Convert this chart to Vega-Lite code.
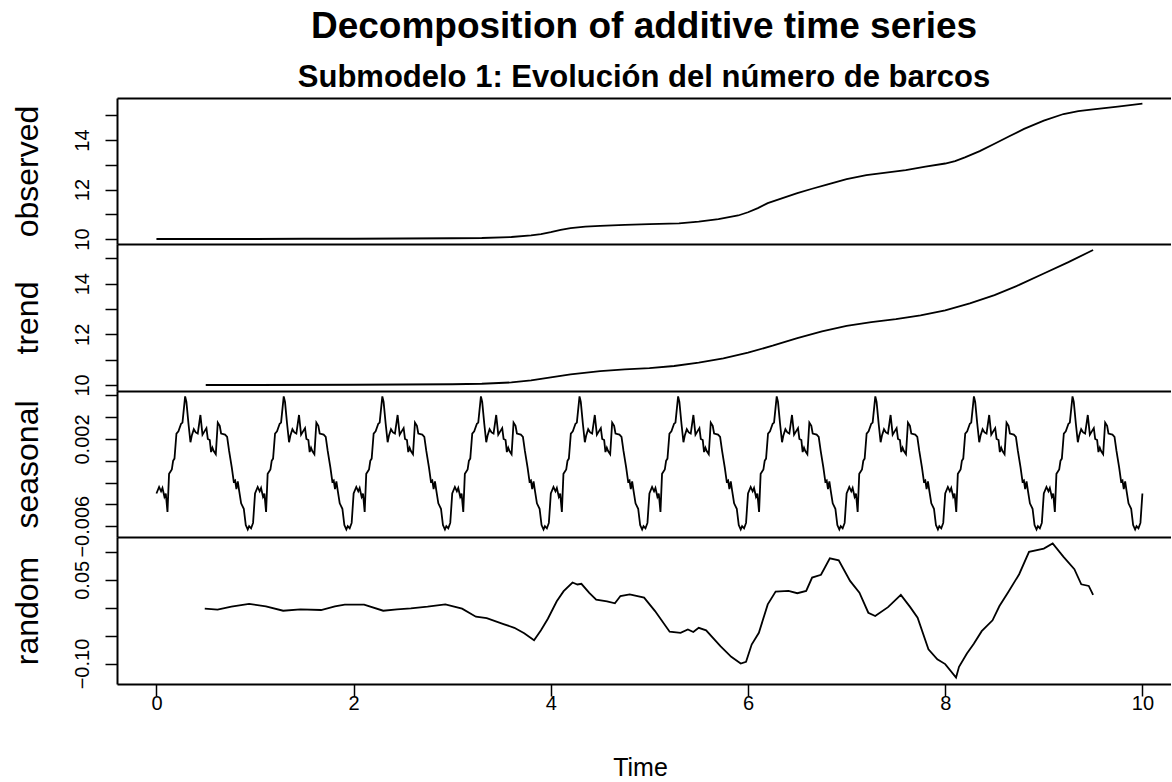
{
"$schema":"https://vega.github.io/schema/vega-lite/v6.json",
"background":"white",
"autosize":{"type":"pad"},
"padding":{"left":11,"top":8,"right":0,"bottom":0},
"bounds":"flush",
"spacing":0,
"config":{
 "view":{"stroke":null},
 "font":"Liberation Sans",
 "concat":{"spacing":0},
 "axis":{"grid":false,"domainColor":"black","domainWidth":2,"tickColor":"black","tickWidth":1.5,"tickSize":12,"labelColor":"black","labelFont":"Liberation Sans","labelFontSize":20,"titleFont":"Liberation Sans","titleFontWeight":"normal","titleColor":"black"}
},
"datasets":{
"observed":[{"t":0,"v":10.0},{"t":0.5,"v":10.0},{"t":1,"v":10.0},{"t":1.5,"v":10.01},{"t":2,"v":10.01},{"t":2.5,"v":10.02},{"t":3,"v":10.03},{"t":3.3,"v":10.04},{"t":3.6,"v":10.08},{"t":3.8,"v":10.15},{"t":3.9,"v":10.2},{"t":4.0,"v":10.28},{"t":4.1,"v":10.37},{"t":4.2,"v":10.44},{"t":4.35,"v":10.5},{"t":4.5,"v":10.53},{"t":4.75,"v":10.57},{"t":5.0,"v":10.6},{"t":5.3,"v":10.63},{"t":5.5,"v":10.7},{"t":5.7,"v":10.8},{"t":5.9,"v":10.95},{"t":6.0,"v":11.08},{"t":6.1,"v":11.25},{"t":6.2,"v":11.45},{"t":6.35,"v":11.65},{"t":6.5,"v":11.85},{"t":6.65,"v":12.03},{"t":6.8,"v":12.2},{"t":7.0,"v":12.42},{"t":7.2,"v":12.58},{"t":7.4,"v":12.68},{"t":7.6,"v":12.78},{"t":7.8,"v":12.92},{"t":8.0,"v":13.05},{"t":8.1,"v":13.15},{"t":8.2,"v":13.3},{"t":8.35,"v":13.55},{"t":8.5,"v":13.85},{"t":8.65,"v":14.15},{"t":8.8,"v":14.45},{"t":9.0,"v":14.78},{"t":9.2,"v":15.05},{"t":9.35,"v":15.17},{"t":9.5,"v":15.24},{"t":9.75,"v":15.35},{"t":10,"v":15.47}],
"trend":[{"t":0.5,"v":10.0},{"t":1,"v":10.0},{"t":2,"v":10.01},{"t":3,"v":10.03},{"t":3.3,"v":10.05},{"t":3.6,"v":10.1},{"t":3.8,"v":10.18},{"t":4.0,"v":10.3},{"t":4.2,"v":10.42},{"t":4.5,"v":10.55},{"t":4.75,"v":10.62},{"t":5.0,"v":10.67},{"t":5.25,"v":10.75},{"t":5.5,"v":10.88},{"t":5.75,"v":11.05},{"t":6.0,"v":11.28},{"t":6.25,"v":11.55},{"t":6.5,"v":11.85},{"t":6.75,"v":12.12},{"t":7.0,"v":12.33},{"t":7.25,"v":12.48},{"t":7.5,"v":12.6},{"t":7.75,"v":12.75},{"t":8.0,"v":12.95},{"t":8.25,"v":13.22},{"t":8.5,"v":13.55},{"t":8.75,"v":13.95},{"t":9.0,"v":14.4},{"t":9.25,"v":14.85},{"t":9.5,"v":15.33}],
"seasonal":[
{"t":0,"v":-0.003},{"t":0.027,"v":-0.0024},{"t":0.047,"v":-0.0028},{"t":0.061,"v":-0.0025},{"t":0.081,"v":-0.0033},{"t":0.095,"v":-0.003},{"t":0.112,"v":-0.0047},{"t":0.128,"v":-0.0012},{"t":0.135,"v":-0.0011},{"t":0.156,"v":-0.0008},{"t":0.169,"v":0.0},{"t":0.183,"v":0.0002},{"t":0.203,"v":0.0025},{"t":0.223,"v":0.0027},{"t":0.25,"v":0.0034},{"t":0.264,"v":0.0035},{"t":0.291,"v":0.0059},{"t":0.304,"v":0.0054},{"t":0.325,"v":0.0034},{"t":0.345,"v":0.0017},{"t":0.358,"v":0.0023},{"t":0.379,"v":0.0029},{"t":0.399,"v":0.0026},{"t":0.419,"v":0.0025},{"t":0.446,"v":0.0042},{"t":0.467,"v":0.0024},{"t":0.487,"v":0.0027},{"t":0.507,"v":0.003},{"t":0.521,"v":0.002},{"t":0.541,"v":0.0019},{"t":0.554,"v":0.0008},{"t":0.568,"v":0.0012},{"t":0.581,"v":0.0009},{"t":0.602,"v":0.0006},{"t":0.622,"v":0.0035},{"t":0.642,"v":0.0032},{"t":0.656,"v":0.0025},{"t":0.696,"v":0.0024},{"t":0.717,"v":0.0022},{"t":0.737,"v":0.0009},{"t":0.764,"v":-0.0006},{"t":0.784,"v":-0.0019},{"t":0.798,"v":-0.0018},{"t":0.811,"v":-0.0026},{"t":0.825,"v":-0.0019},{"t":0.838,"v":-0.0027},{"t":0.859,"v":-0.0039},{"t":0.886,"v":-0.0044},{"t":0.906,"v":-0.0059},{"t":0.926,"v":-0.0063},{"t":0.94,"v":-0.006},{"t":0.96,"v":-0.0062},{"t":0.98,"v":-0.0057},
{"t":1,"v":-0.003},{"t":1.027,"v":-0.0024},{"t":1.047,"v":-0.0028},{"t":1.061,"v":-0.0025},{"t":1.081,"v":-0.0033},{"t":1.095,"v":-0.003},{"t":1.112,"v":-0.0047},{"t":1.128,"v":-0.0012},{"t":1.135,"v":-0.0011},{"t":1.156,"v":-0.0008},{"t":1.169,"v":0.0},{"t":1.183,"v":0.0002},{"t":1.203,"v":0.0025},{"t":1.223,"v":0.0027},{"t":1.25,"v":0.0034},{"t":1.264,"v":0.0035},{"t":1.291,"v":0.0059},{"t":1.304,"v":0.0054},{"t":1.325,"v":0.0034},{"t":1.345,"v":0.0017},{"t":1.358,"v":0.0023},{"t":1.379,"v":0.0029},{"t":1.399,"v":0.0026},{"t":1.419,"v":0.0025},{"t":1.446,"v":0.0042},{"t":1.467,"v":0.0024},{"t":1.487,"v":0.0027},{"t":1.507,"v":0.003},{"t":1.521,"v":0.002},{"t":1.541,"v":0.0019},{"t":1.554,"v":0.0008},{"t":1.568,"v":0.0012},{"t":1.581,"v":0.0009},{"t":1.602,"v":0.0006},{"t":1.622,"v":0.0035},{"t":1.642,"v":0.0032},{"t":1.656,"v":0.0025},{"t":1.696,"v":0.0024},{"t":1.717,"v":0.0022},{"t":1.737,"v":0.0009},{"t":1.764,"v":-0.0006},{"t":1.784,"v":-0.0019},{"t":1.798,"v":-0.0018},{"t":1.811,"v":-0.0026},{"t":1.825,"v":-0.0019},{"t":1.838,"v":-0.0027},{"t":1.859,"v":-0.0039},{"t":1.886,"v":-0.0044},{"t":1.906,"v":-0.0059},{"t":1.926,"v":-0.0063},{"t":1.94,"v":-0.006},{"t":1.96,"v":-0.0062},{"t":1.98,"v":-0.0057},
{"t":2,"v":-0.003},{"t":2.027,"v":-0.0024},{"t":2.047,"v":-0.0028},{"t":2.061,"v":-0.0025},{"t":2.081,"v":-0.0033},{"t":2.095,"v":-0.003},{"t":2.112,"v":-0.0047},{"t":2.128,"v":-0.0012},{"t":2.135,"v":-0.0011},{"t":2.156,"v":-0.0008},{"t":2.169,"v":0.0},{"t":2.183,"v":0.0002},{"t":2.203,"v":0.0025},{"t":2.223,"v":0.0027},{"t":2.25,"v":0.0034},{"t":2.264,"v":0.0035},{"t":2.291,"v":0.0059},{"t":2.304,"v":0.0054},{"t":2.325,"v":0.0034},{"t":2.345,"v":0.0017},{"t":2.358,"v":0.0023},{"t":2.379,"v":0.0029},{"t":2.399,"v":0.0026},{"t":2.419,"v":0.0025},{"t":2.446,"v":0.0042},{"t":2.467,"v":0.0024},{"t":2.487,"v":0.0027},{"t":2.507,"v":0.003},{"t":2.521,"v":0.002},{"t":2.541,"v":0.0019},{"t":2.554,"v":0.0008},{"t":2.568,"v":0.0012},{"t":2.581,"v":0.0009},{"t":2.602,"v":0.0006},{"t":2.622,"v":0.0035},{"t":2.642,"v":0.0032},{"t":2.656,"v":0.0025},{"t":2.696,"v":0.0024},{"t":2.717,"v":0.0022},{"t":2.737,"v":0.0009},{"t":2.764,"v":-0.0006},{"t":2.784,"v":-0.0019},{"t":2.798,"v":-0.0018},{"t":2.811,"v":-0.0026},{"t":2.825,"v":-0.0019},{"t":2.838,"v":-0.0027},{"t":2.859,"v":-0.0039},{"t":2.886,"v":-0.0044},{"t":2.906,"v":-0.0059},{"t":2.926,"v":-0.0063},{"t":2.94,"v":-0.006},{"t":2.96,"v":-0.0062},{"t":2.98,"v":-0.0057},
{"t":3,"v":-0.003},{"t":3.027,"v":-0.0024},{"t":3.047,"v":-0.0028},{"t":3.061,"v":-0.0025},{"t":3.081,"v":-0.0033},{"t":3.095,"v":-0.003},{"t":3.112,"v":-0.0047},{"t":3.128,"v":-0.0012},{"t":3.135,"v":-0.0011},{"t":3.156,"v":-0.0008},{"t":3.169,"v":0.0},{"t":3.183,"v":0.0002},{"t":3.203,"v":0.0025},{"t":3.223,"v":0.0027},{"t":3.25,"v":0.0034},{"t":3.264,"v":0.0035},{"t":3.291,"v":0.0059},{"t":3.304,"v":0.0054},{"t":3.325,"v":0.0034},{"t":3.345,"v":0.0017},{"t":3.358,"v":0.0023},{"t":3.379,"v":0.0029},{"t":3.399,"v":0.0026},{"t":3.419,"v":0.0025},{"t":3.446,"v":0.0042},{"t":3.467,"v":0.0024},{"t":3.487,"v":0.0027},{"t":3.507,"v":0.003},{"t":3.521,"v":0.002},{"t":3.541,"v":0.0019},{"t":3.554,"v":0.0008},{"t":3.568,"v":0.0012},{"t":3.581,"v":0.0009},{"t":3.602,"v":0.0006},{"t":3.622,"v":0.0035},{"t":3.642,"v":0.0032},{"t":3.656,"v":0.0025},{"t":3.696,"v":0.0024},{"t":3.717,"v":0.0022},{"t":3.737,"v":0.0009},{"t":3.764,"v":-0.0006},{"t":3.784,"v":-0.0019},{"t":3.798,"v":-0.0018},{"t":3.811,"v":-0.0026},{"t":3.825,"v":-0.0019},{"t":3.838,"v":-0.0027},{"t":3.859,"v":-0.0039},{"t":3.886,"v":-0.0044},{"t":3.906,"v":-0.0059},{"t":3.926,"v":-0.0063},{"t":3.94,"v":-0.006},{"t":3.96,"v":-0.0062},{"t":3.98,"v":-0.0057},
{"t":4,"v":-0.003},{"t":4.027,"v":-0.0024},{"t":4.047,"v":-0.0028},{"t":4.061,"v":-0.0025},{"t":4.081,"v":-0.0033},{"t":4.095,"v":-0.003},{"t":4.112,"v":-0.0047},{"t":4.128,"v":-0.0012},{"t":4.135,"v":-0.0011},{"t":4.156,"v":-0.0008},{"t":4.169,"v":0.0},{"t":4.183,"v":0.0002},{"t":4.203,"v":0.0025},{"t":4.223,"v":0.0027},{"t":4.25,"v":0.0034},{"t":4.264,"v":0.0035},{"t":4.291,"v":0.0059},{"t":4.304,"v":0.0054},{"t":4.325,"v":0.0034},{"t":4.345,"v":0.0017},{"t":4.358,"v":0.0023},{"t":4.379,"v":0.0029},{"t":4.399,"v":0.0026},{"t":4.419,"v":0.0025},{"t":4.446,"v":0.0042},{"t":4.467,"v":0.0024},{"t":4.487,"v":0.0027},{"t":4.507,"v":0.003},{"t":4.521,"v":0.002},{"t":4.541,"v":0.0019},{"t":4.554,"v":0.0008},{"t":4.568,"v":0.0012},{"t":4.581,"v":0.0009},{"t":4.602,"v":0.0006},{"t":4.622,"v":0.0035},{"t":4.642,"v":0.0032},{"t":4.656,"v":0.0025},{"t":4.696,"v":0.0024},{"t":4.717,"v":0.0022},{"t":4.737,"v":0.0009},{"t":4.764,"v":-0.0006},{"t":4.784,"v":-0.0019},{"t":4.798,"v":-0.0018},{"t":4.811,"v":-0.0026},{"t":4.825,"v":-0.0019},{"t":4.838,"v":-0.0027},{"t":4.859,"v":-0.0039},{"t":4.886,"v":-0.0044},{"t":4.906,"v":-0.0059},{"t":4.926,"v":-0.0063},{"t":4.94,"v":-0.006},{"t":4.96,"v":-0.0062},{"t":4.98,"v":-0.0057},
{"t":5,"v":-0.003},{"t":5.027,"v":-0.0024},{"t":5.047,"v":-0.0028},{"t":5.061,"v":-0.0025},{"t":5.081,"v":-0.0033},{"t":5.095,"v":-0.003},{"t":5.112,"v":-0.0047},{"t":5.128,"v":-0.0012},{"t":5.135,"v":-0.0011},{"t":5.156,"v":-0.0008},{"t":5.169,"v":0.0},{"t":5.183,"v":0.0002},{"t":5.203,"v":0.0025},{"t":5.223,"v":0.0027},{"t":5.25,"v":0.0034},{"t":5.264,"v":0.0035},{"t":5.291,"v":0.0059},{"t":5.304,"v":0.0054},{"t":5.325,"v":0.0034},{"t":5.345,"v":0.0017},{"t":5.358,"v":0.0023},{"t":5.379,"v":0.0029},{"t":5.399,"v":0.0026},{"t":5.419,"v":0.0025},{"t":5.446,"v":0.0042},{"t":5.467,"v":0.0024},{"t":5.487,"v":0.0027},{"t":5.507,"v":0.003},{"t":5.521,"v":0.002},{"t":5.541,"v":0.0019},{"t":5.554,"v":0.0008},{"t":5.568,"v":0.0012},{"t":5.581,"v":0.0009},{"t":5.602,"v":0.0006},{"t":5.622,"v":0.0035},{"t":5.642,"v":0.0032},{"t":5.656,"v":0.0025},{"t":5.696,"v":0.0024},{"t":5.717,"v":0.0022},{"t":5.737,"v":0.0009},{"t":5.764,"v":-0.0006},{"t":5.784,"v":-0.0019},{"t":5.798,"v":-0.0018},{"t":5.811,"v":-0.0026},{"t":5.825,"v":-0.0019},{"t":5.838,"v":-0.0027},{"t":5.859,"v":-0.0039},{"t":5.886,"v":-0.0044},{"t":5.906,"v":-0.0059},{"t":5.926,"v":-0.0063},{"t":5.94,"v":-0.006},{"t":5.96,"v":-0.0062},{"t":5.98,"v":-0.0057},
{"t":6,"v":-0.003},{"t":6.027,"v":-0.0024},{"t":6.047,"v":-0.0028},{"t":6.061,"v":-0.0025},{"t":6.081,"v":-0.0033},{"t":6.095,"v":-0.003},{"t":6.112,"v":-0.0047},{"t":6.128,"v":-0.0012},{"t":6.135,"v":-0.0011},{"t":6.156,"v":-0.0008},{"t":6.169,"v":0.0},{"t":6.183,"v":0.0002},{"t":6.203,"v":0.0025},{"t":6.223,"v":0.0027},{"t":6.25,"v":0.0034},{"t":6.264,"v":0.0035},{"t":6.291,"v":0.0059},{"t":6.304,"v":0.0054},{"t":6.325,"v":0.0034},{"t":6.345,"v":0.0017},{"t":6.358,"v":0.0023},{"t":6.379,"v":0.0029},{"t":6.399,"v":0.0026},{"t":6.419,"v":0.0025},{"t":6.446,"v":0.0042},{"t":6.467,"v":0.0024},{"t":6.487,"v":0.0027},{"t":6.507,"v":0.003},{"t":6.521,"v":0.002},{"t":6.541,"v":0.0019},{"t":6.554,"v":0.0008},{"t":6.568,"v":0.0012},{"t":6.581,"v":0.0009},{"t":6.602,"v":0.0006},{"t":6.622,"v":0.0035},{"t":6.642,"v":0.0032},{"t":6.656,"v":0.0025},{"t":6.696,"v":0.0024},{"t":6.717,"v":0.0022},{"t":6.737,"v":0.0009},{"t":6.764,"v":-0.0006},{"t":6.784,"v":-0.0019},{"t":6.798,"v":-0.0018},{"t":6.811,"v":-0.0026},{"t":6.825,"v":-0.0019},{"t":6.838,"v":-0.0027},{"t":6.859,"v":-0.0039},{"t":6.886,"v":-0.0044},{"t":6.906,"v":-0.0059},{"t":6.926,"v":-0.0063},{"t":6.94,"v":-0.006},{"t":6.96,"v":-0.0062},{"t":6.98,"v":-0.0057},
{"t":7,"v":-0.003},{"t":7.027,"v":-0.0024},{"t":7.047,"v":-0.0028},{"t":7.061,"v":-0.0025},{"t":7.081,"v":-0.0033},{"t":7.095,"v":-0.003},{"t":7.112,"v":-0.0047},{"t":7.128,"v":-0.0012},{"t":7.135,"v":-0.0011},{"t":7.156,"v":-0.0008},{"t":7.169,"v":0.0},{"t":7.183,"v":0.0002},{"t":7.203,"v":0.0025},{"t":7.223,"v":0.0027},{"t":7.25,"v":0.0034},{"t":7.264,"v":0.0035},{"t":7.291,"v":0.0059},{"t":7.304,"v":0.0054},{"t":7.325,"v":0.0034},{"t":7.345,"v":0.0017},{"t":7.358,"v":0.0023},{"t":7.379,"v":0.0029},{"t":7.399,"v":0.0026},{"t":7.419,"v":0.0025},{"t":7.446,"v":0.0042},{"t":7.467,"v":0.0024},{"t":7.487,"v":0.0027},{"t":7.507,"v":0.003},{"t":7.521,"v":0.002},{"t":7.541,"v":0.0019},{"t":7.554,"v":0.0008},{"t":7.568,"v":0.0012},{"t":7.581,"v":0.0009},{"t":7.602,"v":0.0006},{"t":7.622,"v":0.0035},{"t":7.642,"v":0.0032},{"t":7.656,"v":0.0025},{"t":7.696,"v":0.0024},{"t":7.717,"v":0.0022},{"t":7.737,"v":0.0009},{"t":7.764,"v":-0.0006},{"t":7.784,"v":-0.0019},{"t":7.798,"v":-0.0018},{"t":7.811,"v":-0.0026},{"t":7.825,"v":-0.0019},{"t":7.838,"v":-0.0027},{"t":7.859,"v":-0.0039},{"t":7.886,"v":-0.0044},{"t":7.906,"v":-0.0059},{"t":7.926,"v":-0.0063},{"t":7.94,"v":-0.006},{"t":7.96,"v":-0.0062},{"t":7.98,"v":-0.0057},
{"t":8,"v":-0.003},{"t":8.027,"v":-0.0024},{"t":8.047,"v":-0.0028},{"t":8.061,"v":-0.0025},{"t":8.081,"v":-0.0033},{"t":8.095,"v":-0.003},{"t":8.112,"v":-0.0047},{"t":8.128,"v":-0.0012},{"t":8.135,"v":-0.0011},{"t":8.156,"v":-0.0008},{"t":8.169,"v":0.0},{"t":8.183,"v":0.0002},{"t":8.203,"v":0.0025},{"t":8.223,"v":0.0027},{"t":8.25,"v":0.0034},{"t":8.264,"v":0.0035},{"t":8.291,"v":0.0059},{"t":8.304,"v":0.0054},{"t":8.325,"v":0.0034},{"t":8.345,"v":0.0017},{"t":8.358,"v":0.0023},{"t":8.379,"v":0.0029},{"t":8.399,"v":0.0026},{"t":8.419,"v":0.0025},{"t":8.446,"v":0.0042},{"t":8.467,"v":0.0024},{"t":8.487,"v":0.0027},{"t":8.507,"v":0.003},{"t":8.521,"v":0.002},{"t":8.541,"v":0.0019},{"t":8.554,"v":0.0008},{"t":8.568,"v":0.0012},{"t":8.581,"v":0.0009},{"t":8.602,"v":0.0006},{"t":8.622,"v":0.0035},{"t":8.642,"v":0.0032},{"t":8.656,"v":0.0025},{"t":8.696,"v":0.0024},{"t":8.717,"v":0.0022},{"t":8.737,"v":0.0009},{"t":8.764,"v":-0.0006},{"t":8.784,"v":-0.0019},{"t":8.798,"v":-0.0018},{"t":8.811,"v":-0.0026},{"t":8.825,"v":-0.0019},{"t":8.838,"v":-0.0027},{"t":8.859,"v":-0.0039},{"t":8.886,"v":-0.0044},{"t":8.906,"v":-0.0059},{"t":8.926,"v":-0.0063},{"t":8.94,"v":-0.006},{"t":8.96,"v":-0.0062},{"t":8.98,"v":-0.0057},
{"t":9,"v":-0.003},{"t":9.027,"v":-0.0024},{"t":9.047,"v":-0.0028},{"t":9.061,"v":-0.0025},{"t":9.081,"v":-0.0033},{"t":9.095,"v":-0.003},{"t":9.112,"v":-0.0047},{"t":9.128,"v":-0.0012},{"t":9.135,"v":-0.0011},{"t":9.156,"v":-0.0008},{"t":9.169,"v":0.0},{"t":9.183,"v":0.0002},{"t":9.203,"v":0.0025},{"t":9.223,"v":0.0027},{"t":9.25,"v":0.0034},{"t":9.264,"v":0.0035},{"t":9.291,"v":0.0059},{"t":9.304,"v":0.0054},{"t":9.325,"v":0.0034},{"t":9.345,"v":0.0017},{"t":9.358,"v":0.0023},{"t":9.379,"v":0.0029},{"t":9.399,"v":0.0026},{"t":9.419,"v":0.0025},{"t":9.446,"v":0.0042},{"t":9.467,"v":0.0024},{"t":9.487,"v":0.0027},{"t":9.507,"v":0.003},{"t":9.521,"v":0.002},{"t":9.541,"v":0.0019},{"t":9.554,"v":0.0008},{"t":9.568,"v":0.0012},{"t":9.581,"v":0.0009},{"t":9.602,"v":0.0006},{"t":9.622,"v":0.0035},{"t":9.642,"v":0.0032},{"t":9.656,"v":0.0025},{"t":9.696,"v":0.0024},{"t":9.717,"v":0.0022},{"t":9.737,"v":0.0009},{"t":9.764,"v":-0.0006},{"t":9.784,"v":-0.0019},{"t":9.798,"v":-0.0018},{"t":9.811,"v":-0.0026},{"t":9.825,"v":-0.0019},{"t":9.838,"v":-0.0027},{"t":9.859,"v":-0.0039},{"t":9.886,"v":-0.0044},{"t":9.906,"v":-0.0059},{"t":9.926,"v":-0.0063},{"t":9.94,"v":-0.006},{"t":9.96,"v":-0.0062},{"t":9.98,"v":-0.0057},
{"t":10,"v":-0.003}],
"random":[{"t":0.49,"v":-0.0017},{"t":0.62,"v":-0.0035},{"t":0.76,"v":0.0019},{"t":0.94,"v":0.0067},{"t":1.11,"v":0.0025},{"t":1.285,"v":-0.0054},{"t":1.46,"v":-0.003},{"t":1.67,"v":-0.0041},{"t":1.81,"v":0.0025},{"t":1.91,"v":0.0055},{"t":2.106,"v":0.0055},{"t":2.3,"v":-0.0054},{"t":2.44,"v":-0.003},{"t":2.58,"v":-0.0011},{"t":2.75,"v":0.0019},{"t":2.93,"v":0.0061},{"t":3.1,"v":-0.0017},{"t":3.24,"v":-0.0162},{"t":3.35,"v":-0.0186},{"t":3.52,"v":-0.0294},{"t":3.63,"v":-0.036},{"t":3.73,"v":-0.0457},{"t":3.83,"v":-0.0583},{"t":3.9,"v":-0.0403},{"t":3.97,"v":-0.0198},{"t":4.06,"v":0.0115},{"t":4.13,"v":0.0296},{"t":4.22,"v":0.0452},{"t":4.27,"v":0.0416},{"t":4.31,"v":0.0428},{"t":4.39,"v":0.0266},{"t":4.46,"v":0.0145},{"t":4.57,"v":0.0115},{"t":4.65,"v":0.0079},{"t":4.706,"v":0.021},{"t":4.8,"v":0.024},{"t":4.946,"v":0.018},{"t":5.057,"v":-0.006},{"t":5.205,"v":-0.043},{"t":5.316,"v":-0.045},{"t":5.39,"v":-0.039},{"t":5.445,"v":-0.0435},{"t":5.5,"v":-0.036},{"t":5.575,"v":-0.0405},{"t":5.72,"v":-0.069},{"t":5.83,"v":-0.088},{"t":5.926,"v":-0.1},{"t":5.98,"v":-0.097},{"t":6.037,"v":-0.066},{"t":6.11,"v":-0.045},{"t":6.2,"v":0.006},{"t":6.28,"v":0.029},{"t":6.41,"v":0.03},{"t":6.5,"v":0.026},{"t":6.59,"v":0.03},{"t":6.65,"v":0.054},{"t":6.74,"v":0.059},{"t":6.83,"v":0.0885},{"t":6.92,"v":0.085},{"t":7.035,"v":0.048},{"t":7.13,"v":0.027},{"t":7.22,"v":-0.009},{"t":7.29,"v":-0.015},{"t":7.42,"v":0.001},{"t":7.55,"v":0.023},{"t":7.645,"v":0.001},{"t":7.72,"v":-0.018},{"t":7.83,"v":-0.0745},{"t":7.92,"v":-0.0925},{"t":8.0,"v":-0.101},{"t":8.11,"v":-0.125},{"t":8.14,"v":-0.106},{"t":8.22,"v":-0.082},{"t":8.29,"v":-0.0645},{"t":8.37,"v":-0.042},{"t":8.48,"v":-0.0226},{"t":8.55,"v":0.003},{"t":8.64,"v":0.028},{"t":8.75,"v":0.06},{"t":8.85,"v":0.1},{"t":9.0,"v":0.106},{"t":9.09,"v":0.115},{"t":9.2,"v":0.091},{"t":9.31,"v":0.069},{"t":9.38,"v":0.042},{"t":9.456,"v":0.039},{"t":9.5,"v":0.023}]
},
"vconcat":[
{
 "width":1054,"height":146,
 "title":{"text":"Decomposition of additive time series","subtitle":"Submodelo 1: Evolución del número de barcos","anchor":"middle","font":"Liberation Sans","fontSize":37,"fontWeight":"bold","color":"black","subtitleFont":"Liberation Sans","subtitleFontSize":31,"subtitleFontWeight":"bold","subtitleColor":"black","subtitlePadding":17,"offset":4},
 "data":{"name":"observed"},
 "mark":{"type":"line","color":"black","strokeWidth":1.8},
 "encoding":{
  "x":{"field":"t","type":"quantitative","scale":{"domain":[-0.4,10.29],"nice":false,"zero":false},"axis":{"orient":"top","ticks":false,"labels":false,"title":null}},
  "y":{"field":"v","type":"quantitative","scale":{"domain":[9.798,15.697],"nice":false,"zero":false},"axis":{"title":"observed","values":[10,11,12,13,14,15],"labelExpr":"datum.value % 2 == 0 ? datum.label : ''","labelAngle":-90,"labelAlign":"center","labelBaseline":"alphabetic","labelPadding":17,"titleFontSize":32,"titleX":-80,"titleY":73,"titleAngle":-90,"titleAlign":"center","titleBaseline":"alphabetic"}}
 }
},
{
 "width":1054,"height":147,
 "data":{"name":"trend"},
 "mark":{"type":"line","color":"black","strokeWidth":1.8},
 "encoding":{
  "x":{"field":"t","type":"quantitative","scale":{"domain":[-0.4,10.29],"nice":false,"zero":false},"axis":{"orient":"top","ticks":false,"labels":false,"title":null}},
  "y":{"field":"v","type":"quantitative","scale":{"domain":[9.763,15.566],"nice":false,"zero":false},"axis":{"title":"trend","values":[10,11,12,13,14,15],"labelExpr":"datum.value % 2 == 0 ? datum.label : ''","labelAngle":-90,"labelAlign":"center","labelBaseline":"alphabetic","labelPadding":17,"titleFontSize":32,"titleX":-80,"titleY":73.5,"titleAngle":-90,"titleAlign":"center","titleBaseline":"alphabetic"}}
 }
},
{
 "width":1054,"height":146,
 "data":{"name":"seasonal"},
 "mark":{"type":"line","color":"black","strokeWidth":1.8},
 "encoding":{
  "x":{"field":"t","type":"quantitative","scale":{"domain":[-0.4,10.29],"nice":false,"zero":false},"axis":{"orient":"top","ticks":false,"labels":false,"title":null}},
  "y":{"field":"v","type":"quantitative","scale":{"domain":[-0.00699,0.0064],"nice":false,"zero":false},"axis":{"title":"seasonal","values":[-0.006,-0.004,-0.002,0,0.002,0.004,0.006],"labelExpr":"datum.value == 0.002 || datum.value == -0.006 ? format(datum.value, '.3f') : ''","labelAngle":-90,"labelAlign":"center","labelBaseline":"alphabetic","labelPadding":17,"titleFontSize":32,"titleX":-80,"titleY":73,"titleAngle":-90,"titleAlign":"center","titleBaseline":"alphabetic"}}
 }
},
{
 "width":1054,"height":147,
 "data":{"name":"random"},
 "encoding":{
  "y":{"field":"v","type":"quantitative","scale":{"domain":[-0.1367,0.1267],"nice":false,"zero":false},"axis":{"title":"random","values":[-0.1,-0.05,0,0.05,0.1],"labelExpr":"datum.value == 0.05 || datum.value == -0.1 ? format(datum.value, '.2f') : ''","labelAngle":-90,"labelAlign":"center","labelBaseline":"alphabetic","labelPadding":17,"titleFontSize":32,"titleX":-80,"titleY":73.5,"titleAngle":-90,"titleAlign":"center","titleBaseline":"alphabetic"}}
 },
 "layer":[
  {"mark":{"type":"line","color":"black","strokeWidth":1.8},
   "encoding":{"x":{"field":"t","type":"quantitative","scale":{"domain":[-0.4,10.29],"nice":false,"zero":false},"axis":{"orient":"bottom","values":[0,2,4,6,8,10],"format":"d","labelBaseline":"top","labelPadding":-3,"title":"Time","titleFontSize":25,"titleX":523,"titleY":91,"titleAlign":"center","titleBaseline":"alphabetic"}}}},
  {"mark":{"type":"line","color":"black","strokeOpacity":0},
   "encoding":{"x":{"field":"t","type":"quantitative","scale":{"domain":[-0.4,10.29],"nice":false,"zero":false},"axis":{"orient":"top","ticks":false,"labels":false,"title":null}}}}
 ],
 "resolve":{"axis":{"x":"independent"}}
}
]
}
